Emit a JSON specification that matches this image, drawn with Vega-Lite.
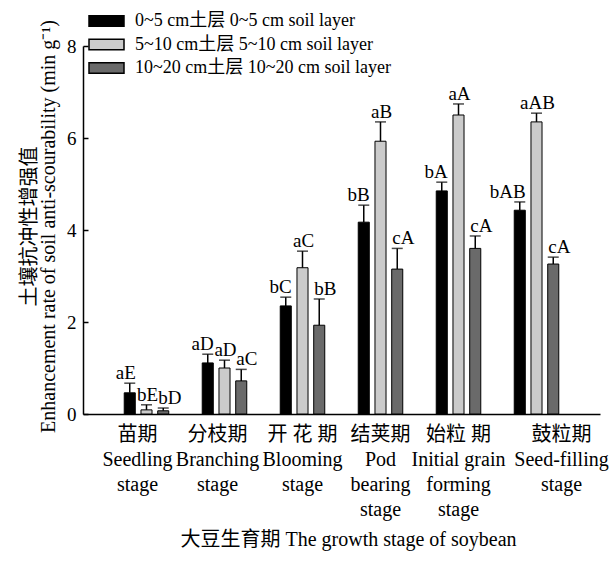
{
  "$schema": "https://vega.github.io/schema/vega-lite/v6.json",
  "width": 517,
  "height": 368,
  "autosize": {"type": "none"},
  "padding": {"left": 83, "top": 46, "right": 16, "bottom": 147},
  "config": {
    "view": {"stroke": null},
    "font": "Liberation Serif, Noto Sans CJK SC",
    "axis": {
      "domainColor": "black", "domainWidth": 1.5, "tickColor": "black", "tickWidth": 1.5,
      "labelColor": "black", "titleColor": "black", "grid": false,
      "labelFont": "Liberation Serif, Noto Sans CJK SC", "titleFont": "Liberation Serif, Noto Sans CJK SC",
      "titleFontWeight": "normal"
    },
    "legend": {"labelFont": "Liberation Serif, Noto Sans CJK SC"}
  },
  "data": {
    "values": [
      {"stage": "苗期|Seedling|stage", "layer": "0~5 cm土层  0~5 cm soil layer", "value": 0.46, "upper": 0.67, "sig": "aE"},
      {"stage": "苗期|Seedling|stage", "layer": "5~10 cm土层  5~10 cm soil layer", "value": 0.09, "upper": 0.20, "sig": "bE"},
      {"stage": "苗期|Seedling|stage", "layer": "10~20 cm土层 10~20 cm soil layer", "value": 0.07, "upper": 0.13, "sig": "bD"},
      {"stage": "分枝期|Branching|stage", "layer": "0~5 cm土层  0~5 cm soil layer", "value": 1.11, "upper": 1.30, "sig": "aD"},
      {"stage": "分枝期|Branching|stage", "layer": "5~10 cm土层  5~10 cm soil layer", "value": 1.00, "upper": 1.17, "sig": "aD"},
      {"stage": "分枝期|Branching|stage", "layer": "10~20 cm土层 10~20 cm soil layer", "value": 0.72, "upper": 0.97, "sig": "aC"},
      {"stage": "开 花 期|Blooming|stage", "layer": "0~5 cm土层  0~5 cm soil layer", "value": 2.35, "upper": 2.54, "sig": "bC"},
      {"stage": "开 花 期|Blooming|stage", "layer": "5~10 cm土层  5~10 cm soil layer", "value": 3.18, "upper": 3.54, "sig": "aC"},
      {"stage": "开 花 期|Blooming|stage", "layer": "10~20 cm土层 10~20 cm soil layer", "value": 1.93, "upper": 2.50, "sig": "bB"},
      {"stage": "结荚期|Pod|bearing|stage", "layer": "0~5 cm土层  0~5 cm soil layer", "value": 4.17, "upper": 4.54, "sig": "bB"},
      {"stage": "结荚期|Pod|bearing|stage", "layer": "5~10 cm土层  5~10 cm soil layer", "value": 5.93, "upper": 6.35, "sig": "aB"},
      {"stage": "结荚期|Pod|bearing|stage", "layer": "10~20 cm土层 10~20 cm soil layer", "value": 3.15, "upper": 3.60, "sig": "cA"},
      {"stage": "始粒 期|Initial grain|forming|stage", "layer": "0~5 cm土层  0~5 cm soil layer", "value": 4.85, "upper": 5.04, "sig": "bA"},
      {"stage": "始粒 期|Initial grain|forming|stage", "layer": "5~10 cm土层  5~10 cm soil layer", "value": 6.50, "upper": 6.74, "sig": "aA"},
      {"stage": "始粒 期|Initial grain|forming|stage", "layer": "10~20 cm土层 10~20 cm soil layer", "value": 3.60, "upper": 3.87, "sig": "cA"},
      {"stage": "鼓粒期|Seed-filling|stage", "layer": "0~5 cm土层  0~5 cm soil layer", "value": 4.43, "upper": 4.61, "sig": "bAB"},
      {"stage": "鼓粒期|Seed-filling|stage", "layer": "5~10 cm土层  5~10 cm soil layer", "value": 6.35, "upper": 6.54, "sig": "aAB"},
      {"stage": "鼓粒期|Seed-filling|stage", "layer": "10~20 cm土层 10~20 cm soil layer", "value": 3.26, "upper": 3.41, "sig": "cA"}
    ]
  },
  "encoding": {
    "x": {
      "field": "stage", "type": "nominal", "sort": null,
      "scale": {"paddingInner": 0, "paddingOuter": 0.314},
      "axis": {
        "title": "大豆生育期 The growth stage of soybean",
        "titleFontSize": 20, "titleX": 265, "titleY": 131, "titleBaseline": "alphabetic",
        "labelAngle": 0, "ticks": false, "labelOverlap": false,
        "labelFontSize": 20, "labelLineHeight": 25, "labelPadding": 10,
        "labelExpr": "split(datum.label, '|')",
        "labelOffset": {
          "condition": [
            {"test": "indexof(datum.value, 'Seedling') >= 0", "value": -9},
            {"test": "indexof(datum.value, 'Branching') >= 0", "value": -7},
            {"test": "indexof(datum.value, 'Seed-filling') >= 0", "value": 25}
          ],
          "value": 0
        }
      }
    },
    "xOffset": {
      "field": "layer", "type": "nominal", "sort": null,
      "scale": {"paddingInner": 0.34, "paddingOuter": 1.1}
    }
  },
  "layer": [
    {
      "mark": {"type": "bar", "stroke": "black", "strokeWidth": 1},
      "encoding": {
        "y": {
          "field": "value", "type": "quantitative",
          "scale": {"domain": [0, 8]},
          "axis": {
            "title": ["土壤抗冲性增强值", "Enhancement rate of soil anti-scourability (min g⁻¹)"],
            "titleFontSize": 20, "titleLineHeight": 19, "titlePadding": 8, "titleY": 180,
            "values": [0, 2, 4, 6, 8], "tickSize": -5, "labelPadding": 12,
            "labelFontSize": 19
          }
        },
        "color": {
          "field": "layer", "type": "nominal", "sort": null,
          "scale": {"range": ["#000000", "#cbcbcb", "#6a6a6a"]},
          "legend": {
            "orient": "none", "legendX": 12.5, "legendY": -36, "title": null, "padding": 0,
            "symbolType": "M-1.75,-0.525H1.75V0.525H-1.75Z", "symbolSize": 400,
            "symbolStrokeColor": "black", "symbolStrokeWidth": 1.5, "symbolOpacity": 1,
            "labelFontSize": 18, "labelColor": "black", "labelOffset": 17.5, "rowPadding": 3.5,
            "labelLimit": 400
          }
        }
      }
    },
    {
      "mark": {"type": "rule", "color": "black", "strokeWidth": 1.5},
      "encoding": {
        "y": {"field": "value", "type": "quantitative"},
        "y2": {"field": "upper"}
      }
    },
    {
      "mark": {"type": "tick", "color": "black", "thickness": 1.5, "size": 11, "orient": "horizontal"},
      "encoding": {
        "y": {"field": "upper", "type": "quantitative"}
      }
    },
    {
      "transform": [{"filter": "indexof(datum.layer, '0~5') == 0"}],
      "mark": {"type": "text", "fontSize": 19, "baseline": "alphabetic", "align": "right", "dx": 6, "dy": -4, "color": "black"},
      "encoding": {
        "y": {"field": "upper", "type": "quantitative"},
        "text": {"field": "sig"}
      }
    },
    {
      "transform": [{"filter": "indexof(datum.layer, '5~10') == 0"}],
      "mark": {"type": "text", "fontSize": 19, "baseline": "alphabetic", "align": "center", "dx": 1, "dy": -4, "color": "black"},
      "encoding": {
        "y": {"field": "upper", "type": "quantitative"},
        "text": {"field": "sig"}
      }
    },
    {
      "transform": [{"filter": "indexof(datum.layer, '10~20') == 0"}],
      "mark": {"type": "text", "fontSize": 19, "baseline": "alphabetic", "align": "left", "dx": -5, "dy": -4, "color": "black"},
      "encoding": {
        "y": {"field": "upper", "type": "quantitative"},
        "text": {"field": "sig"}
      }
    }
  ]
}
